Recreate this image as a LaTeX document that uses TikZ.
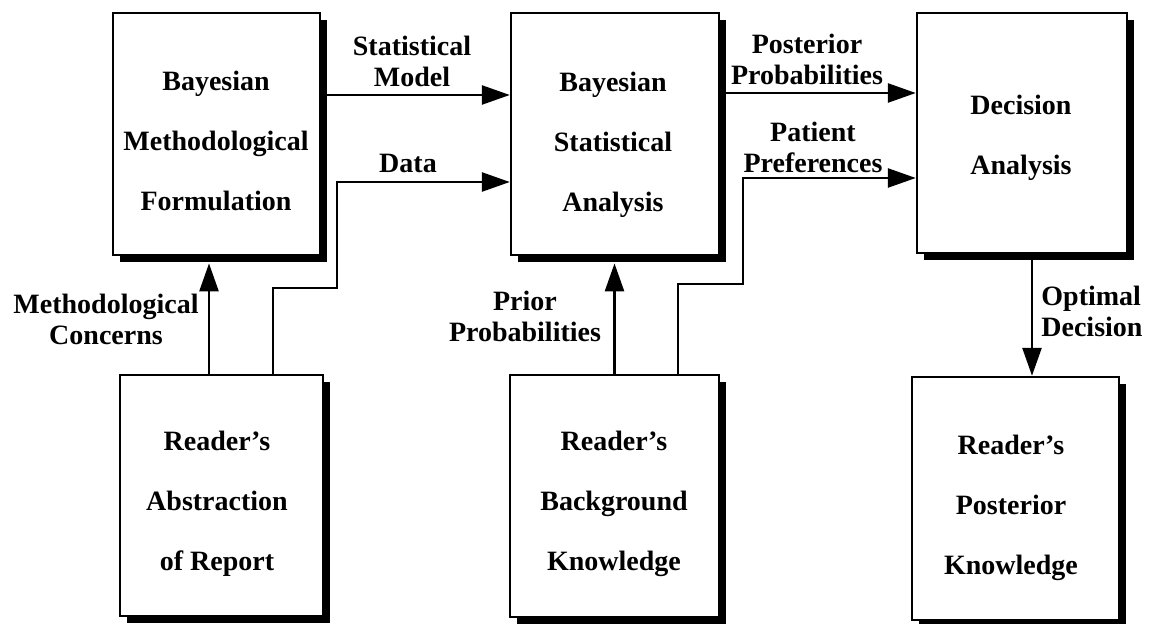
\documentclass[tikz,border=0pt]{standalone}
\usepackage{fontspec}
\setmainfont{Liberation Serif}
\usetikzlibrary{arrows.meta,shadows}
\begin{document}
\begin{tikzpicture}[x=0.5pt,y=-0.5pt,
  stagebox/.style={draw=black, line width=1.2pt, fill=white, inner sep=0pt,
    drop shadow={fill=black, opacity=1, shadow xshift=3.6pt, shadow yshift=-3.6pt}},
  boxtext/.style={font=\fontsize{14}{30}\selectfont\bfseries, align=center, inner sep=0pt},
  lbl/.style={font=\fontsize{14}{15.5}\selectfont\bfseries, align=center, inner sep=0pt},
  flow/.style={line width=1.3pt, line join=miter, -{Triangle[length=14pt,width=9.5pt]}}]
\useasboundingbox (0,0) rectangle (1153,624);

% stage boxes
\node[stagebox, minimum width=103.5pt, minimum height=121pt] (b1) at (216.5,134) {};
\node[stagebox, minimum width=104pt, minimum height=121pt] (b2) at (615,134) {};
\node[stagebox, minimum width=105pt, minimum height=120pt] (b3) at (1022,133) {};
\node[stagebox, minimum width=101.5pt, minimum height=120.5pt] (b4) at (221.5,495.5) {};
\node[stagebox, minimum width=104.5pt, minimum height=121pt] (b5) at (614.5,496) {};
\node[stagebox, minimum width=103.5pt, minimum height=121.5pt] (b6) at (1015.5,498.5) {};

% box texts
\node[boxtext] (t1) at (216,141) {Bayesian\\Methodological\\Formulation};
\node[boxtext] (t2) at (613,145) {Bayesian\\Statistical\\Analysis};
\node[boxtext] (t3) at (1021,137.5) {Decision\\Analysis};
\node[boxtext] (t4) at (217,504) {Reader's\\Abstraction\\of Report};
\node[boxtext] (t5) at (614,504) {Reader's\\Background\\Knowledge};
\node[boxtext] (t6) at (1011,508) {Reader's\\Posterior\\Knowledge};

% helper coordinates for connector routes
\coordinate (ySM) at (0,95);
\coordinate (yPP) at (0,93);
\coordinate (dA) at (273,288);
\coordinate (dB) at (337,182);
\coordinate (pA) at (678,284);
\coordinate (pB) at (743,178);
\coordinate (mc) at (209,0);
\coordinate (od) at (1032,0);

% connectors
\draw[flow] (b1.east |- ySM) -- (b2.west |- ySM);
\draw[flow] (b4.north -| dA) -- (dA) -- (dA -| dB) -- (dB) -- (b2.west |- dB);
\draw[flow, shorten >=3.6pt] (b4.north -| mc) -- (b1.south -| mc);
\draw[flow, shorten >=3.6pt] (b5.north) -- (b5.north |- b2.south);
\draw[flow] (b5.north -| pA) -- (pA) -- (pA -| pB) -- (pB) -- (b3.west |- pB);
\draw[flow] (b2.east |- yPP) -- (b3.west |- yPP);
\draw[flow] (b3.south -| od) -- (b6.north -| od);

% connector labels
\node[lbl] (l1) at (412,61) {Statistical\\Model};
\node[lbl] (l2) at (408,163) {Data};
\node[lbl] (l3) at (807,59) {Posterior\\Probabilities};
\node[lbl] (l4) at (813,147) {Patient\\Preferences};
\node[lbl] (l5) at (106,319) {Methodological\\Concerns};
\node[lbl] (l6) at (525,316) {Prior\\Probabilities};
\node[lbl, align=left, anchor=west] (l7) at (1041,311) {Optimal\\Decision};
\end{tikzpicture}
\end{document}
